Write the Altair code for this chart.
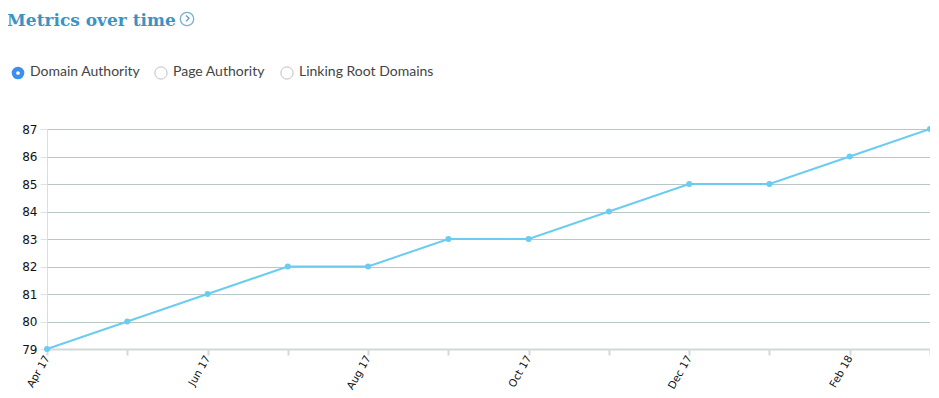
import altair as alt
import pandas as pd

months = ["Apr 17", "May 17", "Jun 17", "Jul 17", "Aug 17", "Sep 17",
          "Oct 17", "Nov 17", "Dec 17", "Jan 18", "Feb 18", "Mar 18"]
domain_authority = [79, 80, 81, 82, 82, 83, 83, 84, 85, 85, 86, 87]
shown_labels = ["Apr 17", "Jun 17", "Aug 17", "Oct 17", "Dec 17", "Feb 18"]
y_ticks = [79, 80, 81, 82, 83, 84, 85, 86, 87]
title_text = ["Metrics over time"]
radio_labels = ["Domain Authority", "Page Authority", "Linking Root Domains"]

PAD_L, PAD_T = 39, 121
W, H = 883, 220
OX, OY = 8 + PAD_L, 8 + PAD_T  # page position of plot origin

df = pd.DataFrame({"month": months, "value": domain_authority})

label_expr = "indexof(" + str(shown_labels) + ", datum.value) >= 0 ? datum.value : ''"

x = alt.X("month:N", sort=months,
          scale=alt.Scale(type="point", padding=0),
          axis=alt.Axis(title=None, labelExpr=label_expr, labelAngle=300,
                        labelAlign="right", labelBaseline="middle",
                        labelFont="DejaVu Sans", labelFontSize=10.5, labelColor="#111",
                        labelPadding=1,
                        domainColor="#d3d8d8", domainWidth=2, tickColor="#d3d8d8",
                        tickWidth=2, tickSize=6, grid=False))
y = alt.Y("value:Q", scale=alt.Scale(domain=[79, 87], nice=False, zero=False),
          axis=alt.Axis(title=None, values=y_ticks, labelFont="DejaVu Sans",
                        labelFontSize=12, labelColor="#111", labelPadding=3,
                        domain=False, tickColor="#dde2e2", tickSize=7,
                        gridColor="#b9c6c6", gridWidth=1))

line = alt.Chart(df).mark_line(color="#6ccbf0", strokeWidth=2).encode(x=x, y=y)
pts = alt.Chart(df).mark_circle(color="#6ccbf0", size=36, opacity=1).encode(x=x, y=y)

one = pd.DataFrame({"a": [1]})

# decorations (page pixel positions converted to plot coordinates)
title = alt.Chart(pd.DataFrame({"t": title_text})).mark_text(
    font="DejaVu Serif", fontWeight="bold", fontSize=17, color="#3a93c4",
    align="left", baseline="alphabetic").encode(
    x=alt.value(7 - OX), y=alt.value(26 - OY), text="t")

icon_ring = alt.Chart(one).mark_point(
    shape="circle", size=180, stroke="#3a93c4", strokeWidth=1.3, filled=False).encode(
    x=alt.value(187 - OX), y=alt.value(19 - OY))
icon_chev = alt.Chart(pd.DataFrame({"t": ["›"]})).mark_text(
    font="DejaVu Sans", fontSize=15, color="#3a93c4", align="center",
    baseline="middle").encode(
    x=alt.value(187.5 - OX), y=alt.value(18 - OY), text="t")

radio_cx = [18, 161, 287]
layers_radio = []
for i, lab in enumerate(radio_labels):
    cx = radio_cx[i]
    layers_radio.append(alt.Chart(pd.DataFrame({"t": [lab]})).mark_text(
        font="Lato", fontSize=14, color="#444", align="left", baseline="middle").encode(
        x=alt.value(cx + 12 - OX), y=alt.value(72 - OY), text="t"))
    if i == 0:
        layers_radio.append(alt.Chart(one).mark_circle(
            size=160, color="#3b8ff0", opacity=1).encode(
            x=alt.value(cx - OX), y=alt.value(73 - OY)))
        layers_radio.append(alt.Chart(one).mark_circle(
            size=14, color="white", opacity=1).encode(
            x=alt.value(cx - OX), y=alt.value(73 - OY)))
    else:
        layers_radio.append(alt.Chart(one).mark_point(
            shape="circle", size=150, stroke="#a9a9a9", strokeWidth=1, filled=False).encode(
            x=alt.value(cx - OX), y=alt.value(73 - OY)))

chart = alt.layer(line, pts, title, icon_ring, icon_chev, *layers_radio).properties(
    width=W, height=H,
    padding={"left": PAD_L, "top": PAD_T, "right": 0, "bottom": 41},
    autosize=alt.AutoSizeParams(type="none"),
).configure_view(stroke=None).configure(background="white")

chart.save("out.html", embed_options={"renderer": "svg", "actions": False})
